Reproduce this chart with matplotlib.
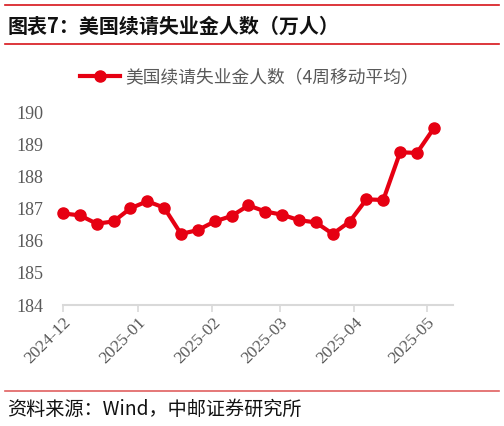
import numpy as np
import pandas as pd
import matplotlib
matplotlib.use("Agg")
import matplotlib.pyplot as plt
import matplotlib.dates as mdates
from matplotlib.lines import Line2D

plt.rcParams['font.family'] = ['Noto Sans CJK SC', 'DejaVu Sans']

# weekly data, 4-week moving average of continuing claims (10k persons)
dates = pd.date_range("2024-12-01", periods=23, freq="7D")
claims = [186.86, 186.80, 186.54, 186.61, 187.02, 187.24, 187.04, 186.22,
          186.34, 186.61, 186.78, 187.11, 186.92, 186.82, 186.65, 186.58,
          186.22, 186.60, 187.30, 187.28, 188.77, 188.75, 189.52]
yticks = [184, 185, 186, 187, 188, 189, 190]

title = "图表7：美国续请失业金人数（万人）"
legend_label = "美国续请失业金人数（4周移动平均）"
source = "资料来源：Wind，中邮证券研究所"

red = "#E60012"
grey = "#595959"

fig = plt.figure(figsize=(5.04, 4.26), dpi=100)
ax = fig.add_axes([0.125, 0.284, 0.774, 0.451])

ax.plot(dates, claims, color=red, lw=3, marker="o", ms=8, label=legend_label, clip_on=False)

ax.set_ylim(184, 190)
ax.set_yticks(yticks)
ax.set_xlim(pd.Timestamp("2024-12-01"), pd.Timestamp("2025-05-12"))
ax.xaxis.set_major_locator(mdates.MonthLocator())
ax.xaxis.set_major_formatter(mdates.DateFormatter("%Y-%m"))

for s in ["top", "right", "left"]:
    ax.spines[s].set_visible(False)
ax.spines["bottom"].set_color("#D9D9D9")
ax.spines["bottom"].set_linewidth(1.5)
ax.tick_params(axis="y", length=0, pad=14, labelcolor=grey)
ax.tick_params(axis="x", length=5, width=1.2, color="#D9D9D9", labelcolor=grey, pad=2)
for lab in ax.get_yticklabels():
    lab.set_fontfamily("Liberation Serif")
    lab.set_fontsize(13)
for lab in ax.get_xticklabels():
    lab.set_fontfamily("Liberation Serif")
    lab.set_fontsize(12.5)
    lab.set_rotation(45)
    lab.set_ha("right")
    lab.set_rotation_mode("anchor")

handle = Line2D([], [], color=red, lw=3, marker="o", ms=8)
fig.legend([handle], [legend_label], loc="center", bbox_to_anchor=(0.495, 0.819),
           frameon=False, prop={"size": 12.75}, labelcolor=grey,
           handlelength=2.3, handletextpad=0.3)

# header / footer decoration
fig.add_artist(Line2D([0.01, 0.99], [1 - 5 / 426, 1 - 5 / 426], color="#D7141A", lw=1.2))
fig.add_artist(Line2D([0.01, 0.99], [1 - 44 / 426, 1 - 44 / 426], color="#D7141A", lw=1.2))
fig.add_artist(Line2D([0.01, 0.99], [1 - 391 / 426, 1 - 391 / 426], color="#E06060", lw=1.2))
fig.text(0.014, 1 - 26 / 426, title, fontsize=14.4, fontweight="bold", va="center", color="#111111")
fig.text(0.014, 1 - 409 / 426, source, fontsize=13.8, va="center", color="#111111",
         family=["Noto Sans CJK SC", "DejaVu Sans Mono"])

fig.savefig("out.png", dpi=100)
